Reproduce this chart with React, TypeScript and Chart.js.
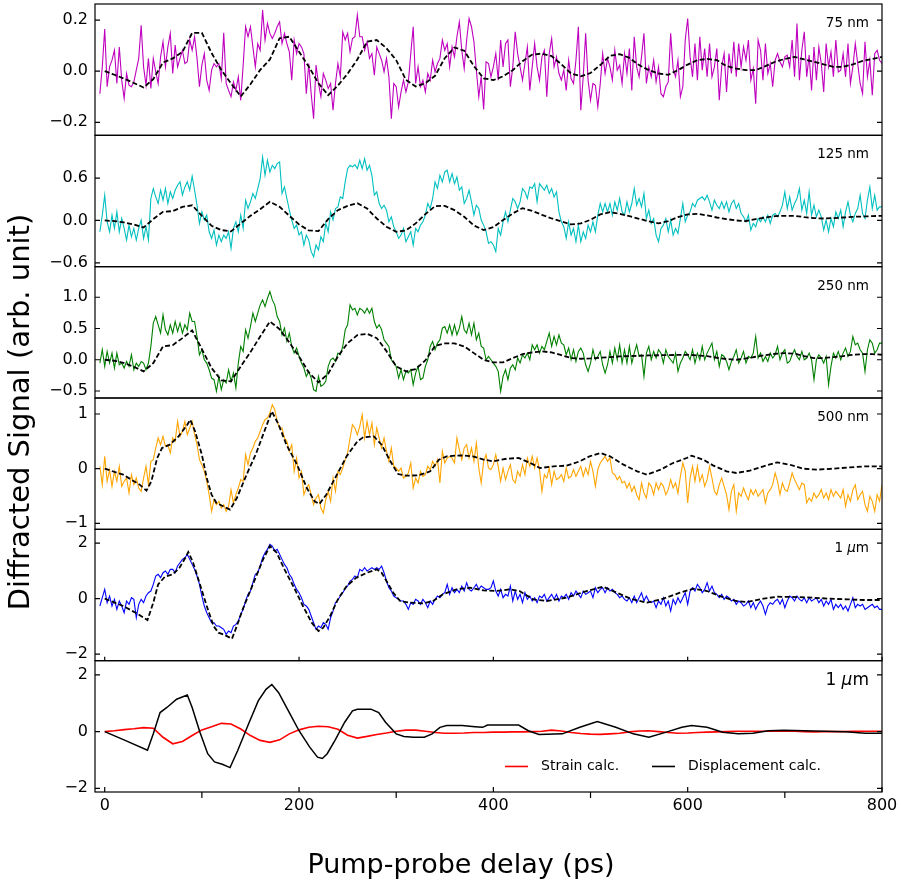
import React, { useEffect, useRef } from 'react';
import { Chart, registerables } from 'chart.js';

Chart.register(...registerables);

const FONT = '"DejaVu Sans", "Noto Sans", sans-serif';

// ---- time grids (ps) ----
const MEAS_T0 = -5;   // first measured delay
const MEAS_DT = 2.5;  // measured sampling step
const CALC_DT = 10;   // calc sampling step (grid curves)

// ---- axis tick values ----
const xTickValues = [0, 100, 200, 300, 400, 500, 600, 700, 800];
const xTickLabels = [0, 200, 400, 600, 800];
const ticks75 = [-0.2, 0, 0.2];
const ticks125 = [-0.6, 0, 0.6];
const ticks250 = [-0.5, 0, 0.5, 1.0];
const ticks500 = [-1, 0, 1];
const ticks1um = [-2, 0, 2];
const ticksCalc = [-2, 0, 2];

const panelLabels = ['75 nm', '125 nm', '250 nm', '500 nm', '1 μm', '1 μm'];
const legendLabels = ['Strain calc.', 'Displacement calc.'];
const xTitle = 'Pump-probe delay (ps)';
const yTitle = 'Diffracted Signal (arb. unit)';

// ---- measured data, t = -5 .. 800 step 2.5 ----
const meas75 = [
  -0.088, 0.017, 0.165, -0.061, 0.017, 0.043, 0.082, -0.048, 0.095, -0.035,
  -0.107, -0.009, -0.055, -0.061, -0.042, 0.004, 0.05, 0.18, 0.017, -0.055,
  0.05, -0.068, 0.05, -0.003, -0.048, 0.056, 0.115, 0.017, 0.095, 0.148,
  -0.009, 0.102, 0.017, 0.05, 0.082, 0.03, 0.037, 0.122, 0.082, 0.135,
  0.05, -0.061, 0.024, 0.069, -0.035, -0.075, 0.004, 0.03, 0.017, 0.03,
  -0.029, 0.15, -0.048, -0.075, -0.1, -0.042, -0.075, -0.022, -0.114, 0.024,
  0.174, 0.135, 0.174, 0.095, 0.017, 0.108, 0.082, 0.239, 0.122, 0.187,
  0.148, 0.128, 0.148, 0.174, 0.193, 0.108, 0.148, 0.108, 0.076, -0.035,
  0.122, 0.069, 0.108, 0.095, 0.069, -0.088, 0.03, -0.088, -0.186, 0.024,
  -0.048, -0.1, -0.009, -0.035, -0.068, -0.048, -0.153, -0.048, 0.03, -0.022,
  0.154, 0.122, 0.148, 0.076, 0.128, 0.135, 0.22, 0.135, 0.135, 0.082,
  0.115, 0.05, 0.069, -0.016, 0.095, 0.069, 0.043, -0.003, 0.05, -0.022,
  -0.186, -0.048, -0.061, -0.14, -0.081, -0.035, -0.081, -0.042, 0.069, 0.174,
  -0.048, 0.017, -0.061, -0.035, -0.081, -0.009, -0.035, 0.043, -0.003, 0.03,
  0.05, 0.122, 0.082, 0.108, 0.017, 0.095, 0.056, 0.135, 0.193, 0.082,
  0.01, 0.122, 0.206, 0.174, 0.115, 0.004, -0.1, -0.02, -0.15, 0.037,
  0.03,
  -0.022, 0.017, 0.069, -0.035, 0.122, 0.017, 0.108, 0.122, -0.061, 0.017,
  0.154, 0.069, 0.017, -0.035, 0.03, 0.095, -0.075, 0.017, 0.108, 0.017,
  -0.035, 0.056, 0.082, -0.1, 0.069, 0.128, 0.017, 0.056, -0.009, -0.035,
  0.004, -0.075, 0.043, -0.029, -0.048, 0.043, 0.174, -0.153, -0.022, 0.148,
  -0.035, -0.114, -0.048, -0.055, -0.14, -0.05, 0.069, -0.009, 0.05, 0.017,
  -0.035, 0.082, 0.004, 0.024, -0.048, 0.069, -0.009, 0.089, -0.075, 0.135,
  0.017, -0.022, 0.056, 0.148, -0.048, 0.017, -0.022, 0.043, -0.042, 0.017,
  -0.088, -0.1, -0.061, -0.042, 0.148, 0.01, -0.022, 0.043, -0.1, -0.061,
  0.122, 0.206, 0.056, -0.022, 0.108, -0.035, 0.135, 0.004, 0.089, -0.022,
  0.108, -0.022, 0.017, 0.089, -0.114, 0.017, 0.069, -0.081, 0.069, -0.009,
  0.115, -0.022, 0.108, 0.017, 0.095, 0.043, 0.122, -0.035, 0.01, -0.127,
  0.122, 0.082, -0.035, 0.108, -0.009, 0.03, -0.061, 0.043, 0.069, 0.037,
  0.017, 0.056, 0.063, 0.017, 0.122, -0.022, 0.187, -0.035, 0.082, 0.154,
  -0.022, 0.063, -0.075, 0.095, -0.035, 0.095, 0.03, -0.081, 0.108, 0.017,
  0.076, -0.022, 0.122, -0.003, 0.004, 0.069, -0.022, 0.108, -0.048, 0.017,
  0.108, 0.03, -0.048, -0.088, 0.115, -0.022, 0.043, -0.094, 0.069, 0.082,
  0.043, 0.03,
];

const meas125 = [
  -0.16, 0.075, 0.358, -0.019, -0.16, 0.075, -0.113, 0.122, -0.16, 0.028,
  -0.113, -0.278, -0.066, -0.231, -0.113, -0.278, -0.113, 0.005, -0.254, -0.089,
  -0.278, 0.311, 0.452, 0.334, 0.24, 0.428, 0.287, 0.452, 0.24, 0.405,
  0.311, 0.428, 0.499, 0.546, 0.358, 0.475, 0.546, 0.428, 0.626, 0.428,
  0.216, -0.042, 0.122, 0.005, 0.075, -0.16, -0.254, -0.136, -0.348, -0.207,
  -0.301, -0.207, -0.254, -0.16, -0.395, -0.113, -0.019, -0.16, 0.075, -0.113,
  0.287, 0.169, 0.264, 0.381, 0.311, 0.452, 0.593, 0.899, 0.64, 0.852,
  0.687, 0.781, 0.734, 0.805, 0.828, 0.381, 0.475, 0.311, 0.146, 0.005,
  -0.113, -0.066, -0.207, -0.16, -0.348, -0.207, -0.278, -0.442, -0.513, -0.348,
  -0.419, -0.231, -0.301, -0.042, -0.16, 0.122, 0.005, 0.169, 0.193, 0.334,
  0.311, 0.546, 0.734, 0.781, 0.758, 0.791, 0.734, 0.852, 0.734, 0.875,
  0.711, 0.781, 0.64, 0.358, 0.405, 0.24, 0.169, 0.216, 0.146, -0.019,
  0.052, -0.089, -0.16, -0.254, -0.207, -0.113, -0.301, -0.231, -0.16, -0.348,
  -0.113, -0.16, -0.066, -0.019, 0.075, 0.24, 0.169, 0.311, 0.546, 0.452,
  0.64, 0.546, 0.687, 0.711, 0.546, 0.664, 0.522, 0.616, 0.428, 0.475,
  0.24, 0.311, 0.428, 0.264, 0.075, 0.216, 0.169, 0.005, -0.066, -0.16,
  -0.325,
  -0.301, -0.348, -0.442, -0.113, -0.207, -0.019, 0.122, -0.019, 0.146, 0.311,
  0.264, 0.169, 0.264, 0.452, 0.405, 0.311, 0.475, 0.452, 0.522, 0.264,
  0.522, 0.475, 0.428, 0.499, 0.381, 0.452, 0.334, 0.405, 0.122, -0.019,
  -0.089, -0.254, -0.019, -0.207, -0.113, -0.301, -0.066, -0.301, -0.16, -0.254,
  -0.066, -0.16, -0.019, -0.16, 0.075, 0.24, 0.122, 0.24, 0.122, 0.24,
  0.075, 0.264, 0.146, 0.311, 0.122, 0.075, 0.264, 0.122, 0.24, 0.452,
  0.216, 0.311, 0.193, 0.381, 0.028, 0.146, -0.042, 0.028, -0.207, -0.301,
  -0.113, -0.066, 0.028, -0.16, 0.005, -0.207, -0.113, -0.184, 0.028, 0.24,
  -0.019, 0.075, 0.122, 0.24, 0.193, 0.287, 0.311, 0.334, 0.287, 0.358,
  0.264, 0.146, 0.287, 0.216, 0.169, 0.264, 0.169, 0.264, 0.122, 0.24,
  0.287, 0.169, 0.24, 0.099, 0.052, -0.019, 0.075, -0.136, -0.042, -0.089,
  0.028, -0.019, 0.052, -0.019, 0.075, -0.042, 0.075, 0.099, 0.052, 0.122,
  0.216, 0.405, 0.169, 0.334, 0.146, 0.24, 0.311, 0.452, 0.146, 0.287,
  0.099, 0.405, 0.075, 0.216, 0.052, 0.146, 0.052, -0.136, 0.005, -0.16,
  0.028, -0.089, 0.122, 0.028, 0.146, -0.089, 0.122, 0.264, 0.075, -0.019,
  0.099, 0.169, 0.358, 0.099, 0.028, 0.287, 0.475, 0.169, 0.358, 0.146,
  0.193, 0.193,
];

const meas250 = [
  -0.053, 0.16, -0.106, 0.133, -0.053, 0.106, -0.133, 0.106, -0.08, -0.053,
  -0.133, -0.027, -0.106, 0.08, -0.16, -0.053, -0.106, -0.027, -0.053, -0.16,
  -0.053, 0.213, 0.585, 0.691, 0.559, 0.426, 0.718, 0.479, 0.399, 0.559,
  0.426, 0.612, 0.452, 0.585, 0.426, 0.559, 0.479, 0.745, 0.612, 0.612,
  0.372, 0.08, 0.16, 0, -0.053, -0.16, -0.293, -0.319, -0.505, -0.266,
  -0.479, -0.319, -0.372, -0.16, -0.346, -0.213, -0.452, -0.053, 0.213, 0.133,
  0.479, 0.346, 0.532, 0.745, 0.612, 0.745, 0.878, 0.957, 0.851, 0.984,
  1.09, 0.957, 0.878, 0.691, 0.612, 0.399, 0.505, 0.293, 0.426, 0.213,
  0.106, 0.186, 0.053, -0.053, -0.133, -0.266, -0.186, -0.293, -0.479, -0.505,
  -0.266, -0.426, -0.399, -0.346, -0.106, 0, 0.027, -0.027, 0.106, 0.08,
  0.213, 0.479, 0.559, 0.878, 0.798, 0.824, 0.718, 0.824, 0.798, 0.745,
  0.824, 0.745, 0.824, 0.612, 0.505, 0.559, 0.479, 0.319, 0.266, 0.213,
  0, -0.053, -0.106, -0.293, -0.16, -0.319, -0.186, -0.213, -0.16, -0.399,
  -0.213, -0.106, -0.319, -0.293, -0.106, 0, 0.213, 0.293, 0.16, 0.266,
  0.319, 0.505, 0.532, 0.426, 0.559, 0.399, 0.559, 0.399, 0.505, 0.691,
  0.479, 0.426, 0.585, 0.399, 0.585, 0.319, 0.426, 0.213, 0.186, 0,
  0.053,
  0, -0.053, -0.106, -0.186, -0.505, -0.266, -0.16, -0.319, -0.133, -0.08,
  -0.16, 0.027, -0.053, 0.08, 0.027, 0.106, 0, 0.239, 0.16, 0.239,
  0.106, 0.213, 0.16, 0.293, 0.426, 0.213, 0.372, 0.239, 0.399, 0.266,
  0.239, 0.08, 0.186, 0, 0.16, -0.027, 0.133, 0.186, 0.106, -0.08,
  -0.186, -0.053, 0.16, 0, 0.053, 0.133, -0.08, -0.213, -0.08, 0.133,
  -0.053, 0.186, 0, 0.239, -0.053, 0.16, -0.053, 0.213, -0.053, 0.106,
  0.239, 0.053, 0.08, -0.266, 0.106, 0.213, 0, 0.133, 0.027, 0.16,
  0.106, -0.053, 0.16, 0.053, 0, -0.053, 0.106, -0.186, -0.053, 0.027,
  0.133, 0.08, 0, 0.16, -0.053, 0.106, 0, 0.213, 0, 0.106,
  0.186, 0.266, 0, 0.133, -0.106, 0.08, 0.053, -0.027, -0.16, -0.027,
  0.053, 0.16, -0.053, 0.027, 0.133, -0.053, 0.053, 0.027, 0.106, 0.372,
  0.027, 0.106, -0.027, 0.053, -0.027, 0.106, 0.027, 0.08, 0.213, 0,
  0.106, 0.16, -0.053, -0.027, 0.08, 0.16, 0.053, 0, 0.133, 0,
  0.027, 0.106, 0, -0.319, 0, 0.08, 0.027, -0.053, 0.053, -0.399,
  -0.106, 0.106, 0.027, 0.133, 0, 0.106, 0.186, 0.053, 0.133, 0.372,
  0.239, 0.266, 0.16, 0.106, -0.186, 0.16, 0.319, 0.266, 0.106, 0.16,
  0.266, 0.266,
];

const meas500 = [
  0.043, -0.293, 0.226, -0.232, -0.018, -0.323, -0.049, -0.232, 0.043, -0.323,
  -0.232, -0.171, -0.445, -0.11, -0.293, -0.171, -0.354, -0.415, -0.171, 0.043,
  -0.293, 0.134, 0.165, 0.378, 0.561, 0.439, 0.591, 0.409, 0.439, 0.287,
  0.561, 0.5, 0.866, 0.591, 0.683, 0.866, 0.622, 0.744, 0.866, 0.622,
  0.439, 0.165, 0.073, -0.049, -0.232, -0.476, -0.78, -0.567, -0.659, -0.598,
  -0.72, -0.659, -0.78, -0.689, -0.384, -0.628, -0.476, -0.354, -0.201, -0.232,
  0.256, 0.073, 0.287, 0.378, 0.5, 0.561, 0.683, 0.805, 0.896, 0.927,
  1.018, 1.171, 1.079, 0.866, 0.744, 0.744, 0.561, 0.5, 0.317, 0.439,
  -0.049, 0.195, -0.171, -0.049, -0.476, -0.354, -0.293, -0.476, -0.659, -0.537,
  -0.476, -0.72, -0.811, -0.567, -0.415, -0.598, -0.171, -0.415, -0.049, -0.11,
  0.012, 0.165, 0.287, 0.561, 0.805, 0.744, 0.622, 0.774, 0.988, 0.561,
  0.866, 0.622, 0.835, 0.439, 0.744, 0.561, 0.378, 0.561, 0.317, 0.134,
  0.378, 0.043, 0.012, -0.049, 0.012, -0.171, -0.14, -0.079, 0.104, -0.354,
  -0.171, -0.262, -0.049, -0.14, -0.11, 0.043, -0.018, 0.134, 0.043, 0.165,
  -0.262, 0.317, 0.104, 0.195, 0.226, 0.195, 0.104, 0.561, 0.348, 0.165,
  0.378, 0.439, 0.195, 0.378, 0.134, 0.47, 0.012, -0.262, 0.134, 0.256,
  0.012,
  -0.018, 0.073, 0.256, 0.043, -0.232, 0.012, -0.201, -0.049, 0.073, -0.201,
  -0.262, -0.049, -0.14, 0.073, -0.11, 0.195, 0.043, 0.226, 0.012, 0.195,
  -0.018, -0.415, -0.11, -0.171, 0.012, -0.293, -0.049, -0.201, -0.171, -0.11,
  -0.232, 0.012, -0.171, -0.14, -0.018, -0.14, -0.049, 0.043, -0.14, 0.012,
  -0.11, 0.134, -0.049, -0.323, -0.018, 0.104, 0.165, 0.226, 0.134, 0.195,
  -0.079, -0.11, -0.201, -0.14, -0.262, -0.232, -0.354, -0.262, -0.415, -0.323,
  -0.476, -0.567, -0.262, -0.445, -0.537, -0.262, -0.323, -0.476, -0.262, -0.384,
  -0.262, -0.323, -0.476, -0.384, -0.201, -0.354, -0.262, -0.445, -0.14, 0.104,
  -0.049, -0.628, -0.171, 0.043, -0.232, 0.043, -0.232, -0.11, -0.323, -0.201,
  0.043, -0.171, -0.415, -0.476, -0.293, -0.171, -0.323, -0.476, -0.75, -0.415,
  -0.293, -0.78, -0.445, -0.506, -0.354, -0.476, -0.567, -0.384, -0.476, -0.384,
  -0.506, -0.445, -0.384, -0.628, -0.445, -0.384, -0.293, -0.079, -0.232, -0.476,
  -0.262, -0.384, -0.415, -0.262, -0.079, -0.201, -0.293, -0.384, -0.262, -0.293,
  -0.628, -0.537, -0.598, -0.445, -0.537, -0.476, -0.384, -0.537, -0.445, -0.567,
  -0.384, -0.506, -0.415, -0.476, -0.537, -0.384, -0.689, -0.476, -0.598, -0.384,
  -0.293, -0.567, -0.476, -0.415, -0.659, -0.78, -0.506, -0.598, -0.78, -0.476,
  -0.598, -0.293,
];

const meas1um = [
  -0.264, 0.036, 0.336, -0.144, 0.096, -0.264, -0.024, -0.384, -0.084, -0.264,
  -0.505, -0.084, -0.204, 0.036, -0.024, -0.685, -0.204, -0.024, -0.144, 0.096,
  0.216, 0.276, 0.517, 0.817, 0.877, 0.757, 0.937, 0.997, 0.877, 1.057,
  1.057, 0.937, 1.177, 1.297, 1.417, 1.477, 1.598, 1.417, 1.237, 1.057,
  0.817, 0.517, 0.096, -0.264, -0.505, -0.685, -0.865, -0.865, -0.985, -0.985,
  -1.045, -1.105, -1.285, -1.165, -1.225, -0.985, -0.925, -0.805, -0.565, -0.384,
  -0.084, 0.156, 0.276, 0.577, 0.877, 0.937, 1.177, 1.477, 1.658, 1.778,
  1.958, 1.898, 1.718, 1.778, 1.598, 1.417, 1.237, 1.117, 0.877, 0.757,
  0.517, 0.336, 0.216, 0.036, -0.204, -0.264, -0.384, -0.625, -0.865, -1.105,
  -0.985, -1.045, -0.865, -0.925, -1.105, -0.685, -0.444, -0.144, -0.048, 0.096,
  0.216, 0.36, 0.456, 0.637, 0.697, 0.817, 0.757, 1.057, 0.997, 1.117,
  0.997, 1.057, 1.117, 1.057, 1.117, 1.057, 1.177, 0.937, 0.637, 0.396,
  0.276, 0.096, 0.036, -0.024, -0.084, -0.084, -0.204, -0.384, -0.144, -0.204,
  -0.024, -0.084, -0.204, -0.024, -0.144, -0.324, -0.084, -0.204, -0.024, 0.096,
  0.036, 0.156, 0.216, 0.517, 0.156, 0.396, 0.216, 0.336, 0.216, 0.456,
  0.276, 0.577, 0.336, 0.276, 0.396, 0.517, 0.336, 0.456, 0.396, 0.336,
  0.336,
  0.396, 0.637, 0.276, 0.096, 0.336, 0.036, 0.156, 0.096, 0.456, -0.084,
  0.276, -0.024, 0.156, -0.144, 0.216, -0.024, 0.096, -0.084, 0.036, -0.144,
  0.096, 0.036, 0.156, -0.084, 0.036, 0.156, -0.024, 0.156, -0.084, 0.096,
  0.036, 0.156, -0.024, 0.216, 0.096, 0.276, 0.156, 0.036, 0.276, 0.156,
  0.216, 0.276, 0.036, 0.396, 0.216, 0.336, 0.396, 0.216, 0.396, 0.276,
  0.336, 0.216, 0.156, 0.036, 0.096, -0.024, -0.084, 0.036, -0.144, 0.096,
  -0.144, 0.036, 0.216, -0.084, 0.096, -0.084, -0.144, -0.084, -0.324, -0.084,
  -0.204, 0.036, -0.264, -0.084, -0.444, -0.024, -0.204, 0.036, -0.144, 0.036,
  0.216, -0.204, 0.276, 0.396, 0.276, 0.517, 0.396, 0.216, 0.336, 0.577,
  0.276, 0.456, 0.216, 0.156, 0.036, 0.156, -0.024, 0.096, 0.036, -0.084,
  -0.024, -0.204, -0.084, -0.144, -0.264, -0.204, -0.084, -0.324, -0.144, -0.384,
  -0.204, -0.084, -0.264, -0.565, -0.264, -0.144, -0.204, -0.084, -0.024, -0.204,
  -0.024, -0.324, -0.084, 0.096, 0.036, -0.084, 0.096, -0.024, -0.084, 0.036,
  -0.144, 0.036, -0.084, -0.024, 0.036, -0.144, -0.024, -0.264, -0.084, -0.204,
  -0.024, -0.384, -0.204, -0.324, -0.204, -0.384, -0.264, -0.444, -0.204, 0.036,
  -0.324, -0.204, -0.264, -0.204, -0.384, -0.324, -0.264, -0.204, -0.324, -0.264,
  -0.384, -0.384,
];

// ---- calculations on a 10 ps grid, t = 0 .. 800 ----
const calc75 = [
  0, -0.014, -0.029, -0.046, -0.064, -0.031, 0.034, 0.05, 0.075, 0.15,
  0.15, 0.071, 0.005, -0.048, -0.099, -0.051, 0.005, 0.046, 0.129, 0.135,
  0.076, 0.018, -0.047, -0.094, -0.056, -0.01, 0.046, 0.116, 0.122, 0.09,
  0.043, -0.034, -0.06, -0.047, -0.018, 0.051, 0.093, 0.08, 0.02, -0.028,
  -0.035, -0.02, 0.004, 0.039, 0.065, 0.069, 0.059, 0.027, -0.009, -0.02,
  -0.007, 0.024, 0.06, 0.067, 0.052, 0.024, 0.004, -0.009, -0.014, 0.004,
  0.026, 0.043, 0.048, 0.043, 0.02, 0.01, 0.004, 0.004, 0.02, 0.037,
  0.048, 0.056, 0.046, 0.037, 0.027, 0.017, 0.017, 0.027, 0.04, 0.048,
  0.056,
];

const calc125 = [
  0, -0.009, -0.028, -0.056, -0.099, 0.019, 0.122, 0.132, 0.193, 0.215,
  0.066, -0.075, -0.136, -0.155, -0.042, 0.066, 0.16, 0.264, 0.193, 0.066,
  -0.056, -0.141, -0.151, 0.019, 0.146, 0.207, 0.245, 0.169, 0.028, -0.089,
  -0.16, -0.141, -0.042, 0.089, 0.202, 0.207, 0.146, 0.052, -0.071, -0.136,
  -0.094, 0.005, 0.099, 0.174, 0.136, 0.08, 0.028, -0.014, -0.056, -0.042,
  0.009, 0.085, 0.118, 0.094, 0.061, 0.024, -0.014, -0.042, -0.009, 0.047,
  0.085, 0.094, 0.071, 0.042, 0.019, 0, -0.009, 0.019, 0.042, 0.061,
  0.066, 0.066, 0.047, 0.033, 0.028, 0.033, 0.042, 0.052, 0.056, 0.061,
  0.066,
];

const calc250 = [
  0, -0.016, -0.053, -0.112, -0.186, -0.053, 0.213, 0.234, 0.346, 0.47,
  0.17, -0.133, -0.33, -0.346, -0.106, 0.122, 0.372, 0.612, 0.489, 0.277,
  0.053, -0.202, -0.362, -0.223, 0.053, 0.266, 0.394, 0.415, 0.346, 0.138,
  -0.106, -0.186, -0.149, -0.011, 0.223, 0.261, 0.261, 0.213, 0.106, 0,
  -0.043, -0.043, 0.027, 0.09, 0.117, 0.133, 0.117, 0.074, 0.027, 0.016,
  0.021, 0.032, 0.043, 0.053, 0.059, 0.064, 0.069, 0.072, 0.074, 0.077,
  0.08, 0.069, 0.059, 0.032, 0.011, 0, 0.021, 0.048, 0.074, 0.096,
  0.106, 0.096, 0.059, 0.027, 0.027, 0.043, 0.059, 0.08, 0.09, 0.09,
  0.08,
];

const strainCalc = [
  0, 0.03, 0.07, 0.1, 0.14, 0.12, -0.2, -0.43, -0.35, -0.14,
  0.06, 0.17, 0.29, 0.27, 0.09, -0.14, -0.31, -0.38, -0.29, -0.08,
  0.06, 0.15, 0.19, 0.17, 0.08, -0.13, -0.23, -0.17, -0.1, -0.05,
  0.01, 0.05, 0.05, 0.01, -0.03, -0.06, -0.06, -0.05, -0.03, -0.03,
  -0.02, -0.02, -0.01, -0.01, 0, 0.01, 0.05, 0.02, -0.03, -0.07,
  -0.09, -0.1, -0.08, -0.06, -0.01, 0.02, 0.03, 0, -0.03, -0.06,
  -0.05, -0.03, -0.02, -0.01, 0, 0.01, 0.01, 0.01, 0.01, 0.01,
  0.01, 0.01, 0, -0.01, 0, 0, 0, 0.01, 0.01, 0.01,
  0.01,
];

// ---- calculations with sharp kinks, given as (delay, value) knots ----
const calc500T = [0, 19, 36, 43, 48, 54, 59, 67, 76, 85, 88, 93, 100, 105, 110, 115, 129, 136, 146, 156, 163, 172, 179, 187, 198, 208, 216, 221, 228, 239, 249, 260, 266, 277, 285, 294, 302, 311, 323, 335, 344, 352, 366, 379, 390, 400, 414, 426, 438, 448, 462, 475, 489, 499, 510, 520, 534, 548, 558, 572, 585, 599, 604, 616, 626, 640, 650, 664, 678, 692, 705, 719, 733, 750, 767, 784, 800];
const calc500V = [0, -0.11, -0.293, -0.402, -0.232, 0.195, 0.378, 0.439, 0.591, 0.805, 0.896, 0.683, 0.256, -0.171, -0.476, -0.628, -0.75, -0.537, -0.11, 0.287, 0.622, 1.049, 0.805, 0.439, 0.073, -0.354, -0.598, -0.646, -0.476, -0.11, 0.226, 0.5, 0.573, 0.591, 0.439, 0.134, -0.098, -0.128, -0.122, -0.049, 0.165, 0.226, 0.244, 0.226, 0.165, 0.134, 0.183, 0.195, 0.104, 0.012, 0.043, 0.055, 0.134, 0.226, 0.287, 0.226, 0.073, -0.049, -0.11, -0.018, 0.104, 0.195, 0.238, 0.165, 0.061, -0.049, -0.079, -0.037, 0.043, 0.116, 0.073, 0, -0.018, 0, 0.024, 0.043, 0.043];

const calc1umT = [0, 19, 33, 44, 50, 55, 62, 70, 77, 83, 86, 91, 98, 105, 112, 117, 122, 131, 136, 142, 149, 156, 163, 170, 177, 185, 194, 204, 213, 220, 225, 232, 240, 249, 259, 270, 280, 285, 290, 297, 304, 314, 328, 338, 348, 362, 376, 390, 403, 417, 427, 441, 455, 475, 496, 513, 527, 541, 558, 575, 592, 606, 620, 633, 650, 661, 678, 692, 712, 729, 746, 764, 781, 800];
const calc1umV = [0, -0.264, -0.529, -0.769, -0.144, 0.517, 0.793, 0.877, 1.117, 1.477, 1.682, 1.297, 0.517, -0.264, -0.985, -1.225, -1.285, -1.441, -0.985, -0.384, 0.216, 0.817, 1.417, 1.898, 1.658, 1.057, 0.456, -0.264, -0.865, -1.165, -1.045, -0.625, -0.024, 0.456, 0.757, 0.937, 1.057, 0.937, 0.637, 0.216, -0.084, -0.144, -0.168, -0.084, 0.156, 0.336, 0.396, 0.3, 0.276, 0.336, 0.276, -0.024, -0.084, 0.036, 0.276, 0.432, 0.216, 0, -0.144, 0, 0.216, 0.36, 0.276, 0.096, -0.084, -0.12, 0, 0.072, 0.06, 0.036, 0, -0.024, -0.048, -0.048];

const dispCalcT = [0, 21, 44, 50, 57, 64, 74, 85, 90, 98, 106, 113, 121, 129, 137, 148, 158, 166, 172, 179, 190, 200, 211, 219, 224, 229, 237, 247, 255, 260, 274, 282, 289, 300, 308, 318, 329, 337, 345, 352, 368, 381, 389, 394, 405, 426, 436, 447, 471, 489, 507, 526, 544, 560, 578, 594, 604, 620, 636, 652, 667, 683, 699, 720, 741, 762, 783, 800];
const dispCalcV = [0, -0.31, -0.66, -0.08, 0.67, 0.85, 1.14, 1.29, 0.85, -0.02, -0.78, -1.07, -1.15, -1.27, -0.66, 0.27, 1.08, 1.49, 1.66, 1.37, 0.67, 0.03, -0.55, -0.9, -0.95, -0.78, -0.31, 0.33, 0.73, 0.79, 0.79, 0.67, 0.33, -0.08, -0.17, -0.2, -0.2, -0.08, 0.15, 0.21, 0.21, 0.17, 0.15, 0.23, 0.23, 0.23, 0.03, -0.1, -0.08, 0.15, 0.35, 0.15, -0.08, -0.2, -0.02, 0.15, 0.21, 0.15, -0.02, -0.08, -0.06, 0.03, 0.05, 0.03, 0.01, -0.01, -0.06, -0.06];

// ---- helpers to turn arrays into points ----
const measPts = (vals: number[]) => vals.map((v, i) => ({ x: MEAS_T0 + i * MEAS_DT, y: v }));
const gridPts = (vals: number[]) => vals.map((v, i) => ({ x: i * CALC_DT, y: v }));
const knotPts = (ts: number[], vs: number[]) =>
  ts.slice(0, Math.min(ts.length, vs.length)).map((t, i) => ({ x: t, y: vs[i] }));

type Panel = {
  id: string; min: number; max: number; ticks: number[]; dec: number;
  label: string; labelSize: number; weight: number;
};

const PANELS: Panel[] = [
  { id: 'y1', min: -0.251, max: 0.263, ticks: ticks75, dec: 1, label: panelLabels[0], labelSize: 13.5, weight: 6 },
  { id: 'y2', min: -0.654, max: 1.205, ticks: ticks125, dec: 1, label: panelLabels[1], labelSize: 13.5, weight: 5 },
  { id: 'y3', min: -0.612, max: 1.489, ticks: ticks250, dec: 1, label: panelLabels[2], labelSize: 13.5, weight: 4 },
  { id: 'y4', min: -1.11, max: 1.293, ticks: ticks500, dec: 0, label: panelLabels[3], labelSize: 13.5, weight: 3 },
  { id: 'y5', min: -2.234, max: 2.5, ticks: ticks1um, dec: 0, label: panelLabels[4], labelSize: 13.5, weight: 2 },
  { id: 'y6', min: -2.13, max: 2.5, ticks: ticksCalc, dec: 0, label: panelLabels[5], labelSize: 17, weight: 1 },
];

const fmt = (v: number, dec: number) => {
  const s = Math.abs(v).toFixed(dec);
  return v < 0 ? '\u2212' + s : s;
};

const drawMixedLabel = (ctx: CanvasRenderingContext2D, text: string, rightX: number, y: number, size: number) => {
  const parts: { t: string; it: boolean }[] = [];
  const idx = text.indexOf('μ');
  if (idx >= 0) {
    parts.push({ t: text.slice(0, idx), it: false });
    parts.push({ t: 'μ', it: true });
    parts.push({ t: text.slice(idx + 1), it: false });
  } else {
    parts.push({ t: text, it: false });
  }
  const fontOf = (it: boolean) => `${it ? 'italic ' : ''}${size}px ${FONT}`;
  let total = 0;
  parts.forEach((p) => { ctx.font = fontOf(p.it); total += ctx.measureText(p.t).width; });
  let x = rightX - total;
  ctx.textAlign = 'left';
  ctx.textBaseline = 'middle';
  ctx.fillStyle = '#000';
  parts.forEach((p) => {
    ctx.font = fontOf(p.it);
    ctx.fillText(p.t, x, y);
    x += ctx.measureText(p.t).width;
  });
};

const framePlugin = {
  id: 'panelFrames',
  afterDraw(chart: any) {
    const { ctx, chartArea } = chart;
    const { left, right } = chartArea;
    ctx.save();
    ctx.strokeStyle = '#000';
    ctx.lineWidth = 1.2;
    PANELS.forEach((p) => {
      const s = chart.scales[p.id];
      ctx.beginPath();
      p.ticks.forEach((v) => {
        const y = s.getPixelForValue(v);
        ctx.moveTo(left, y); ctx.lineTo(left + 5, y);
        ctx.moveTo(right - 5, y); ctx.lineTo(right, y);
      });
      ctx.stroke();
      ctx.strokeRect(left, s.top, right - left, s.bottom - s.top);
      drawMixedLabel(ctx, p.label, right - 13, s.top + 19.5, p.labelSize);
    });

    // x ticks: inward on panel 5 bottom (major) and on the base axis
    const xs = chart.scales.x;
    const s5 = chart.scales.y5;
    const s6 = chart.scales.y6;
    ctx.beginPath();
    xTickLabels.forEach((v) => {
      const x = xs.getPixelForValue(v);
      ctx.moveTo(x, s5.bottom); ctx.lineTo(x, s5.bottom - 4);
    });
    xTickValues.forEach((v) => {
      const x = xs.getPixelForValue(v);
      const major = xTickLabels.indexOf(v) >= 0;
      if (major) { ctx.moveTo(x, s6.bottom); ctx.lineTo(x, s6.bottom - 5); }
      else { ctx.moveTo(x, s6.bottom); ctx.lineTo(x, s6.bottom + 6); }
    });
    ctx.stroke();

    // legend inside the bottom panel
    const ly = s6.getPixelForValue(-1.23);
    const legendItems = [
      { label: legendLabels[0], color: '#ff0000', x0: 505 },
      { label: legendLabels[1], color: '#000000', x0: 652 },
    ];
    legendItems.forEach((it) => {
      ctx.strokeStyle = it.color;
      ctx.lineWidth = 1.6;
      ctx.beginPath();
      ctx.moveTo(it.x0, ly); ctx.lineTo(it.x0 + 23, ly);
      ctx.stroke();
      ctx.fillStyle = '#000';
      ctx.font = `14px ${FONT}`;
      ctx.textAlign = 'left';
      ctx.textBaseline = 'middle';
      ctx.fillText(it.label, it.x0 + 36, ly);
    });

    // axis titles
    ctx.fillStyle = '#000';
    ctx.font = `27px ${FONT}`;
    ctx.textAlign = 'center';
    ctx.textBaseline = 'middle';
    ctx.fillText(xTitle, 461, 866);
    ctx.save();
    ctx.translate(21, 412);
    ctx.rotate(-Math.PI / 2);
    ctx.font = `29px ${FONT}`;
    ctx.fillText(yTitle, 0, 0);
    ctx.restore();
    ctx.restore();
  },
};

const lineDs = (label: string, data: any[], yAxisID: string, color: string, width: number, dashed: boolean, order: number) => ({
  label, data, yAxisID, borderColor: color, backgroundColor: color,
  borderWidth: width, borderDash: dashed ? [5, 2.5] : [], pointRadius: 0,
  tension: 0, fill: false, order, spanGaps: true,
});

export default function App() {
  const ref = useRef<HTMLCanvasElement | null>(null);

  useEffect(() => {
    if (!ref.current) return;
    Chart.defaults.font.family = FONT;

    const datasets = [
      lineDs('75 nm calc.', gridPts(calc75), 'y1', '#000000', 1.8, true, 0),
      lineDs('75 nm', measPts(meas75), 'y1', '#bf00bf', 1.1, false, 1),
      lineDs('125 nm calc.', gridPts(calc125), 'y2', '#000000', 1.8, true, 0),
      lineDs('125 nm', measPts(meas125), 'y2', '#00bfbf', 1.1, false, 1),
      lineDs('250 nm calc.', gridPts(calc250), 'y3', '#000000', 1.8, true, 0),
      lineDs('250 nm', measPts(meas250), 'y3', '#008000', 1.1, false, 1),
      lineDs('500 nm calc.', knotPts(calc500T, calc500V), 'y4', '#000000', 1.8, true, 0),
      lineDs('500 nm', measPts(meas500), 'y4', '#ffa500', 1.1, false, 1),
      lineDs('1 μm calc.', knotPts(calc1umT, calc1umV), 'y5', '#000000', 1.8, true, 0),
      lineDs('1 μm', measPts(meas1um), 'y5', '#0000ff', 1.1, false, 1),
      lineDs(legendLabels[1], knotPts(dispCalcT, dispCalcV), 'y6', '#000000', 1.5, false, 0),
      lineDs(legendLabels[0], gridPts(strainCalc), 'y6', '#ff0000', 1.6, false, 1),
    ];

    const scales: any = {
      x: {
        type: 'linear', position: 'bottom', min: -10, max: 800,
        afterBuildTicks: (s: any) => { s.ticks = xTickLabels.map((v) => ({ value: v })); },
        ticks: { color: '#000', font: { size: 16, family: FONT }, padding: 4, autoSkip: false, maxRotation: 0,
          callback: (v: any) => String(v) },
        grid: { display: false, drawTicks: false },
        border: { display: false },
        afterFit: (s: any) => { s.height = 96; s.paddingLeft = 0; s.paddingRight = 0; },
      },
    };
    PANELS.forEach((p) => {
      scales[p.id] = {
        type: 'linear', position: 'left', stack: 'panels', stackWeight: 1, weight: p.weight,
        min: p.min, max: p.max,
        afterBuildTicks: (s: any) => { s.ticks = p.ticks.map((v) => ({ value: v })); },
        ticks: { color: '#000', font: { size: 16, family: FONT }, padding: 7, autoSkip: false,
          callback: (v: any) => fmt(Number(v), p.dec) },
        grid: { display: false, drawTicks: false },
        border: { display: false },
        afterFit: (s: any) => { s.width = 95; s.paddingTop = 0; s.paddingBottom = 0; },
      };
    });

    const chart = new Chart(ref.current, {
      type: 'line',
      data: { datasets } as any,
      options: {
        animation: false,
        responsive: false,
        devicePixelRatio: 1,
        layout: { padding: { top: 4, right: 19, bottom: 0, left: 0 } },
        plugins: { legend: { display: false }, tooltip: { enabled: false }, title: { display: false } },
        elements: { point: { radius: 0 }, line: { tension: 0 } },
        scales,
      } as any,
      plugins: [framePlugin],
    });
    return () => chart.destroy();
  }, []);

  return (
    <div style={{ position: 'fixed', left: 0, top: 0, width: 901, height: 888, background: '#fff' }}>
      <canvas ref={ref} width={901} height={888} style={{ display: 'block' }} />
    </div>
  );
}
